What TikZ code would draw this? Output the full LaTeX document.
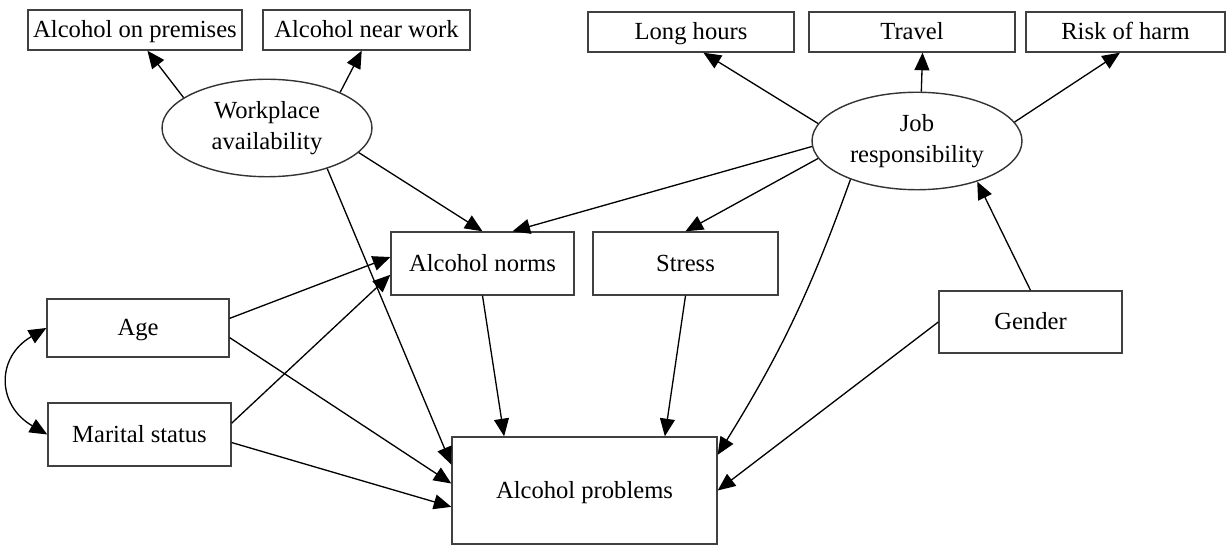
\documentclass[tikz,border=0pt]{standalone}
\usepackage{fontspec}
\setmainfont{Liberation Serif}
\usetikzlibrary{arrows.meta,shapes.geometric}

\begin{document}
\begin{tikzpicture}[
  x=0.02cm, y=0.02cm,
  obs/.style={rectangle, draw=black!75, line width=0.8pt, inner sep=0pt, text height=9.5pt, text depth=0.5pt, font=\fontsize{14}{18}\selectfont},
  lat/.style={ellipse, draw=black!80, line width=0.8pt, inner sep=0pt, align=center, font=\fontsize{14}{18}\selectfont, minimum width=4.2cm, minimum height=1.95cm},
  edge/.style={line width=0.75pt, draw=black, -{Triangle[length=10pt,width=8.5pt]}}
]
  \useasboundingbox (0,0) rectangle (1228,-546);

  % --- INDICADORES SUPERIORES ---
  \node[obs, minimum width=4.28cm, minimum height=0.8cm] (prem)   at (135,-30)    {Alcohol on premises};
  \node[obs, minimum width=4.14cm, minimum height=0.8cm] (near)   at (366.5,-30)  {Alcohol near work};
  \node[obs, minimum width=4.12cm, minimum height=0.8cm] (hours)  at (691,-32)    {Long hours};
  \node[obs, minimum width=4.12cm, minimum height=0.8cm] (travel) at (912,-32)    {Travel};
  \node[obs, minimum width=3.98cm, minimum height=0.8cm] (harm)   at (1125.5,-32) {Risk of harm};

  % --- VARIABLES LATENTES ---
  \node[lat] (wa) at (267,-128) {Workplace\\availability};
  \node[lat] (jr) at (917,-141) {Job\\responsibility};

  % --- VARIABLES OBSERVADAS ---
  \node[obs, minimum width=3.66cm, minimum height=1.26cm] (norms)    at (482.5,-263.5) {Alcohol norms};
  \node[obs, minimum width=3.70cm, minimum height=1.26cm] (stress)   at (685.5,-263.5) {Stress};
  \node[obs, minimum width=3.64cm, minimum height=1.16cm] (age)      at (138,-328)     {Age};
  \node[obs, minimum width=3.66cm, minimum height=1.26cm] (marital)  at (139.5,-434.5) {Marital status};
  \node[obs, minimum width=3.66cm, minimum height=1.24cm] (gender)   at (1030.5,-322)  {Gender};
  \node[obs, minimum width=5.30cm, minimum height=2.14cm] (problems) at (584.5,-490.5) {Alcohol problems};

  % Indicadores
  \draw[edge] (wa.160) -- (prem.-59);  \draw[edge] (wa.26) -- (near.-103);
  \draw[edge] (jr.170) -- (hours.-59); \draw[edge] (jr.85) -- (travel.-63);
  \draw[edge] (jr.11) -- (harm.-105);
  \draw[edge] (gender.north) -- (jr.-34);

  % Hacia normas y estrés
  \draw[edge] (wa.-15) -- (norms.north);
  \draw[edge] (jr.183) -- (norms.47);
  \draw[edge] (jr.190) -- (stress.north);
  \draw[edge] (age.6) -- (norms.176);
  \draw[edge] (marital.7) -- (norms.187);

  % Hacia problemas
  \draw[edge] (wa.-34.5) -- (problems.169);
  \draw[edge] (jr.210) to[bend left=6] (problems.15);
  \draw[edge] (norms.south) -- (problems.146);
  \draw[edge] (stress.south) -- (problems.34);
  \draw[edge] (gender.west) -- (problems.east);
  \draw[edge] (age.-6) -- (problems.177);
  \draw[edge] (marital.-5) -- (problems.187.5);

  % Covarianza
  \draw[edge, {Triangle[length=10pt,width=8.5pt]}-{Triangle[length=10pt,width=8.5pt]}]
    (age.west) to[out=210, in=150, looseness=1.4] (marital.west);
\end{tikzpicture}
\end{document}
